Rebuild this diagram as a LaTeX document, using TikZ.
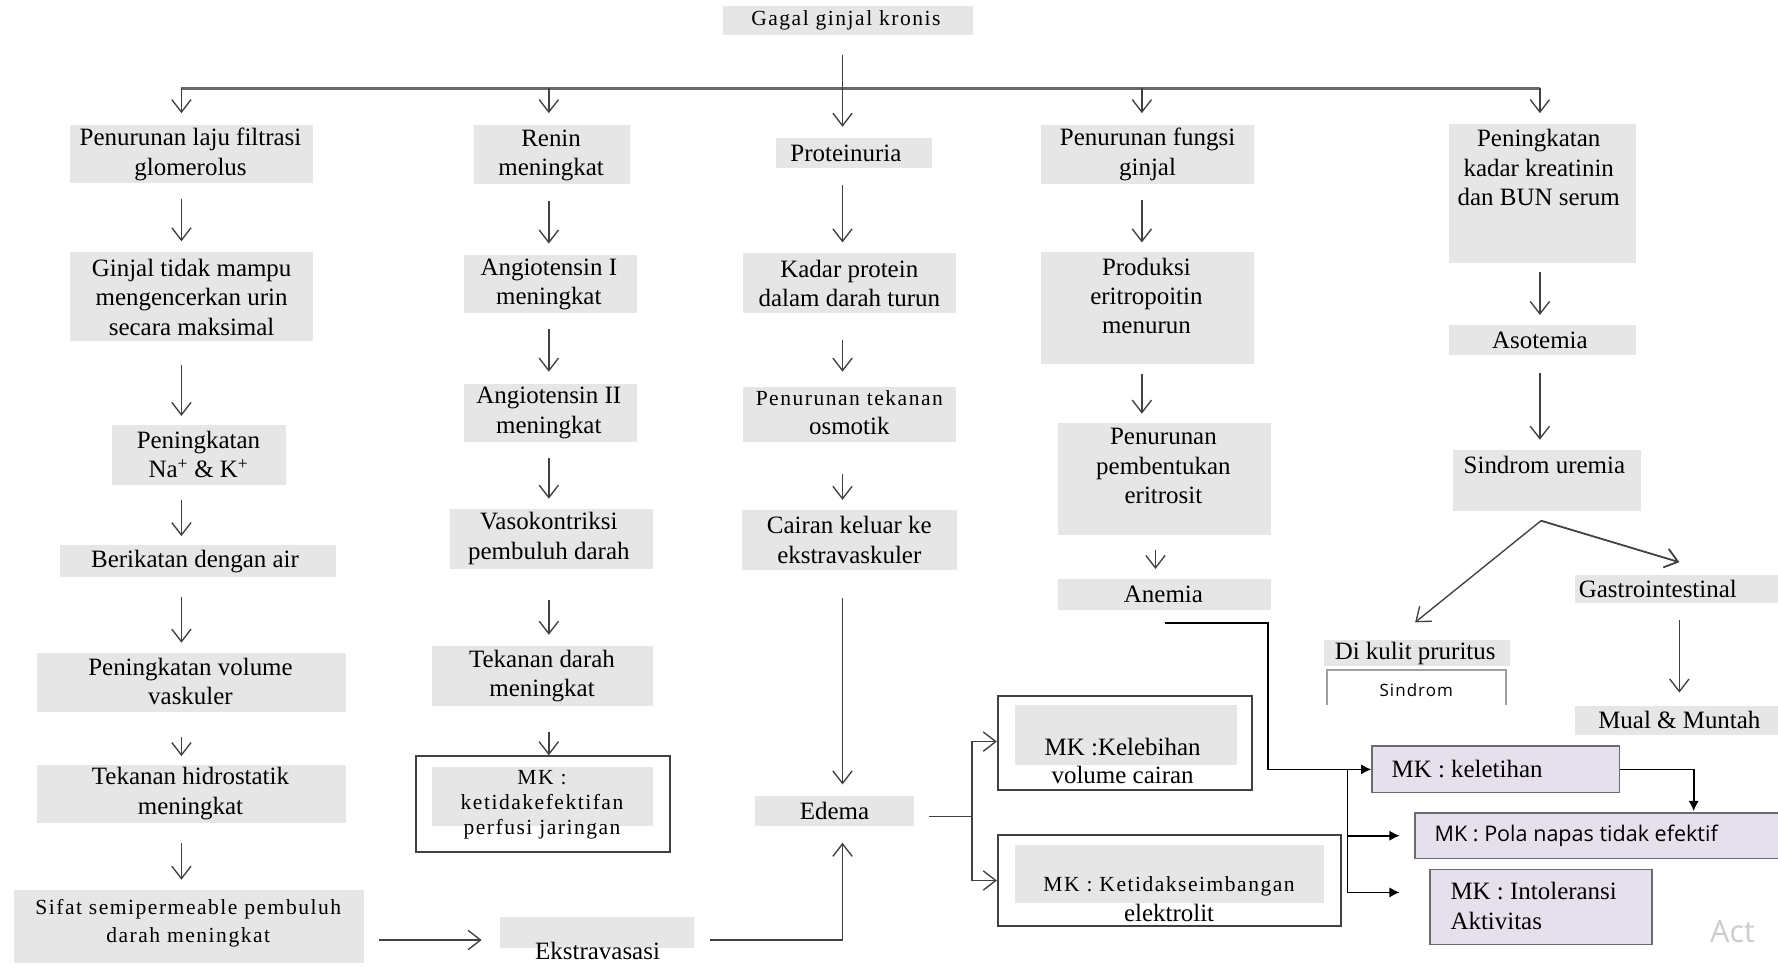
\documentclass[tikz,border=0pt]{standalone}
\usepackage{fontspec}
\setmainfont{Liberation Serif}
\newfontfamily\osans{Open Sans}
\usetikzlibrary{arrows.meta,calc,fit}
\definecolor{boxgray}{RGB}{230,230,230}
\definecolor{lav}{RGB}{229,224,236}
\definecolor{lnc}{RGB}{65,65,65}
\definecolor{trunkc}{RGB}{105,105,105}
\newcommand\nfont{\fontsize{22}{26}\selectfont}
\newcommand\smfont{\fontsize{19}{22}\selectfont\addfontfeature{LetterSpace=7}}
\tikzset{
 gbox/.style={fill=boxgray, inner sep=0pt, draw=none},
 lbox/.style={fill=lav, draw=gray!85!black, line width=1.3pt, inner sep=0pt},
 obox/.style={draw=lnc, line width=1.8pt, inner sep=0pt},
 txt/.style={inner sep=0pt, align=center, font=\nfont, text=black},
 arrline/.style={draw=lnc, line width=1.2pt},
 arr/.style={draw=lnc, line width=1.2pt, -{Straight Barb[length=11pt,width=17pt]}},
 farr/.style={draw=black, line width=1.5pt, -{Latex[length=9pt,width=9pt]}},
 trunk/.style={draw=trunkc, line width=2.4pt},
}
\begin{document}
\begin{tikzpicture}[x=1pt,y=-1pt]
\useasboundingbox (0,0) rectangle (1568,852);
\clip (0,0) rectangle (1568,852);
\fill[white] (0,0) rectangle (1568,852);
% column guides
\coordinate (c1) at (160,0);
\coordinate (c2) at (484,0);
\coordinate (c3) at (743,0);
\coordinate (c4) at (1007,0);
\coordinate (c4b) at (1019,0);
\coordinate (c5) at (1358,0);
% top
\node[gbox,fit={(638,5)(858,31)}] (gagal) {};
\node[txt,font=\smfont] (gagalt) at (746,18) {Gagal ginjal kronis};
% column 1
\node[gbox,fit={(62,110)(276,161)}] (b1) {};
\node[txt] (b1t) at (168,136) {Penurunan laju filtrasi\\glomerolus};
\node[gbox,fit={(62,222)(276,301)}] (b2) {};
\node[txt] (b2t) at (169,262) {Ginjal tidak mampu\\mengencerkan urin\\secara maksimal};
\node[gbox,fit={(99,375)(252,428)}] (b3) {};
\node[txt] (b3t) at (175,401) {Peningkatan\\Na\textsuperscript{+} \& K\textsuperscript{+}};
\node[gbox,fit={(53,481)(296,509)}] (b4) {};
\node[txt] (b4t) at (172,495) {Berikatan dengan air};
\node[gbox,fit={(33,576)(305,628)}] (b5) {};
\node[txt] (b5t) at (168,601) {Peningkatan volume\\vaskuler};
\node[gbox,fit={(33,675)(305,726)}] (b6) {};
\node[txt] (b6t) at (168,700) {Tekanan hidrostatik\\meningkat};
\node[gbox,fit={(12,785)(321,849)}] (b7) {};
\node[txt,font=\smfont,text depth=0pt] (b7t) at (166,812) {Sifat semipermeable pembuluh\\[3pt]darah meningkat};
\node[gbox,fit={(441,809)(612,836)}] (ekstra) {};
\node[txt] (ekstrat) at (527,839) {Ekstravasasi};
% column 2
\node[gbox,fit={(418,110)(556,162)}] (r1) {};
\node[txt] (r1t) at (486,137) {Renin\\meningkat};
\node[gbox,fit={(409,225)(562,276)}] (r2) {};
\node[txt] (r2t) at (484,251) {Angiotensin I\\meningkat};
\node[gbox,fit={(409,339)(562,390)}] (r3) {};
\node[txt] (r3t) at (484,364) {Angiotensin II\\meningkat};
\node[gbox,fit={(397,449)(576,502)}] (r4) {};
\node[txt] (r4t) at (484,475) {Vasokontriksi\\pembuluh darah};
\node[gbox,fit={(381,570)(576,623)}] (r5) {};
\node[txt] (r5t) at (478,596) {Tekanan darah\\meningkat};
\node[obox,fit={(367,667)(591,751)}] (r6) {};
\node[gbox,fit={(381,676)(576,728)}] (r6in) {};
\node[txt,font=\smfont] (r6t) at (478,710) {MK :\\ketidakefektifan\\perfusi jaringan};
% column 3
\node[gbox,fit={(684,122)(822,148)}] (p1) {};
\node[txt] (p1t) at (746,135) {Proteinuria};
\node[gbox,fit={(655,223)(843,276)}] (p2) {};
\node[txt] (p2t) at (749,250) {Kadar protein\\dalam darah turun};
\node[gbox,fit={(655,341)(843,390)}] (p3) {};
\node[txt] (p3t) at (749,364) {{\smfont Penurunan tekanan}\\osmotik};
\node[gbox,fit={(654,450)(844,503)}] (p4) {};
\node[txt] (p4t) at (749,476) {Cairan keluar ke\\ekstravaskuler};
\node[gbox,fit={(666,702)(806,728)}] (edema) {};
\node[txt] (edemat) at (736,715) {Edema};
% column 4
\node[gbox,fit={(918,110)(1106,162)}] (f1) {};
\node[txt] (f1t) at (1012,136) {Penurunan fungsi\\ginjal};
\node[gbox,fit={(918,222)(1106,321)}] (f2) {};
\node[txt] (f2t) at (1011,261) {Produksi\\eritropoitin\\menurun};
\node[gbox,fit={(933,373)(1121,472)}] (f3) {};
\node[txt] (f3t) at (1026,411) {Penurunan\\pembentukan\\eritrosit};
\node[gbox,fit={(933,511)(1121,538)}] (anemia) {};
\node[txt] (anemiat) at (1026,524) {Anemia};
% column 5
\node[gbox,fit={(1278,109)(1443,232)}] (k1) {};
\node[txt] (k1t) at (1357,148) {Peningkatan\\kadar kreatinin\\dan BUN serum};
\node[gbox,fit={(1278,287)(1443,313)}] (aso) {};
\node[txt] (asot) at (1358,300) {Asotemia};
\node[gbox,fit={(1281,397)(1447,451)}] (sind) {};
\node[txt] (sindt) at (1362,410) {Sindrom uremia};
\node[gbox,fit={(1389,507)(1572,532)}] (gastro) {};
\node[txt] (gastrot) at (1462,519) {Gastrointestinal};
\node[gbox,fit={(1389,623)(1572,648)}] (mual) {};
\node[txt] (mualt) at (1481,635) {Mual \& Muntah};
\node[gbox,fit={(1168,564)(1332,587)}] (kulit) {};
\node[txt] (kulitt) at (1248,576) {Di kulit pruritus};
\draw[draw=gray!75, line width=1.6pt] (1170,622) -- (1170,591) -- (1328,591) -- (1328,622);
\node[inner sep=0pt, font=\osans\fontsize{15}{18}\selectfont\addfontfeature{LetterSpace=6}] (sindromt) at (1249,609) {Sindrom};
% MK boxes
\node[obox,fit={(880,614)(1104,697)}] (mk1) {};
\node[gbox,fit={(895,622)(1091,675)}] (mk1in) {};
\node[txt,font=\fontsize{22}{25}\selectfont] (mk1t) at (990,671) {MK :Kelebihan\\volume cairan};
\node[obox,fit={(880,736)(1183,817)}] (mk2) {};
\node[gbox,fit={(895,745)(1168,796)}] (mk2in) {};
\node[txt] (mk2t) at (1031,793) {{\smfont MK : Ketidakseimbangan}\\elektrolit};
\node[lbox,fit={(1210,658)(1428,699)}] (kelet) {};
\node[txt,anchor=west] (keltt) at (1227,678) {MK : keletihan};
\node[lbox,fit={(1248,717)(1580,757)}] (pola) {};
\node[txt,anchor=west,font=\osans\fontsize{19}{22}\selectfont] (polat) at (1265,737) {MK : Pola napas tidak efektif};
\node[lbox,fit={(1261,767)(1457,833)}] (intol) {};
\node[txt,anchor=west,align=left] (intolt) at (1279,799) {MK : Intoleransi\\Aktivitas};
\node[inner sep=0pt, anchor=west, text=gray!40, font=\osans\fontsize{27}{30}\selectfont] (act) at (1508,822) {Act};
% trunk
\coordinate (tL) at (160,78);
\coordinate (tR) at (1358,78);
\draw[trunk] (tL) -- (tR);
\draw[arr] ($(gagal.south -| c3)+(0,17)$) -- ($(p1.north -| c3)+(0,-10)$);
\draw[arr] (tL) -- ($(b1.north -| c1)+(0,-10)$);
\draw[arr] (tL -| c2) -- ($(r1.north -| c2)+(0,-10)$);
\draw[arr] (tL -| c4) -- ($(f1.north -| c4)+(0,-10)$);
\draw[arr] (tR) -- ($(k1.north -| c5)+(0,-9)$);
% column 1 arrows
\draw[arr] ($(b1.south -| c1)+(0,14)$) -- ($(b2.north -| c1)+(0,-9)$);
\draw[arr] ($(b2.south -| c1)+(0,21)$) -- ($(b3.north -| c1)+(0,-8)$);
\draw[arr] ($(b3.south -| c1)+(0,13)$) -- ($(b4.north -| c1)+(0,-8)$);
\draw[arr] ($(b4.south -| c1)+(0,17)$) -- ($(b5.north -| c1)+(0,-9)$);
\draw[arr] ($(b5.south -| c1)+(0,22)$) -- ($(b6.north -| c1)+(0,-8)$);
\draw[arr] ($(b6.south -| c1)+(0,17)$) -- ($(b7.north -| c1)+(0,-9)$);
\draw[arr] ($(b7.east)+(13,12)$) -- ($(ekstra.west)+(-16,6.5)$);
% column 2 arrows
\draw[arr] ($(r1.south -| c2)+(0,15)$) -- ($(r2.north -| c2)+(0,-10)$);
\draw[arr] ($(r2.south -| c2)+(0,14)$) -- ($(r3.north -| c2)+(0,-11)$);
\draw[arr] ($(r3.south -| c2)+(0,14)$) -- ($(r4.north -| c2)+(0,-9)$);
\draw[arr] ($(r4.south -| c2)+(0,27)$) -- ($(r5.north -| c2)+(0,-10)$);
\draw[arr] ($(r5.south -| c2)+(0,22)$) -- (r6.north -| c2);
% column 3 arrows
\draw[arr] ($(p1.south -| c3)+(0,15)$) -- ($(p2.north -| c3)+(0,-9)$);
\draw[arr] ($(p2.south -| c3)+(0,24)$) -- ($(p3.north -| c3)+(0,-13)$);
\draw[arr] ($(p3.south -| c3)+(0,28)$) -- ($(p4.north -| c3)+(0,-9)$);
\draw[arr] ($(p4.south -| c3)+(0,24)$) -- ($(edema.north -| c3)+(0,-10)$);
\draw[arr] ($(ekstra.east)+(14,6.5)$) -| ($(edema.south -| c3)+(0,15)$);
\coordinate (eb) at ($(edema.east)+(51,5)$);
\draw[arrline] ($(edema.east)+(13,5)$) -- (eb);
\draw[arr] (eb) |- ($(mk1.west)+(0,-1.5)$);
\draw[arr] (eb) |- (mk2.west);
% column 4 arrows
\draw[arr] ($(f1.south -| c4)+(0,14)$) -- ($(f2.north -| c4)+(0,-8)$);
\draw[arr] ($(f2.south -| c4)+(0,9)$) -- ($(f3.north -| c4)+(0,-8)$);
\draw[arr] ($(f3.south -| c4b)+(0,13)$) -- ($(anemia.north -| c4b)+(0,-9)$);
\draw[farr] ($(anemia.south)+(0,11)$) -- ++(91,0) |- (kelet.west);
\coordinate (kb) at ($(kelet.west)+(-21,0)$);
\draw[farr] (kb) |- ($(pola.west)+(-13,0)$);
\draw[farr] (kb) |- ($(intol.west)+(-26,-13)$);
\draw[farr] (kelet.east) -| ($(pola.north -| kelet.east)+(65,-1)$);
% column 5 arrows
\draw[arr] ($(k1.south -| c5)+(0,8)$) -- ($(aso.north -| c5)+(0,-9)$);
\draw[arr] ($(aso.south -| c5)+(0,16)$) -- ($(sind.north -| c5)+(0,-9)$);
\coordinate (apex) at ($(sind.south)+(-5,8)$);
\draw[arr] (apex) -- ($(kulit.north)+(-2,-15)$);
\draw[arr,line width=1.6pt] (apex) -- ($(gastro.north)+(0.5,-11)$);
\draw[arr] ($(gastro.south)+(0.5,15)$) -- ($(mual.north)+(0.5,-12)$);
\end{tikzpicture}
\end{document}
